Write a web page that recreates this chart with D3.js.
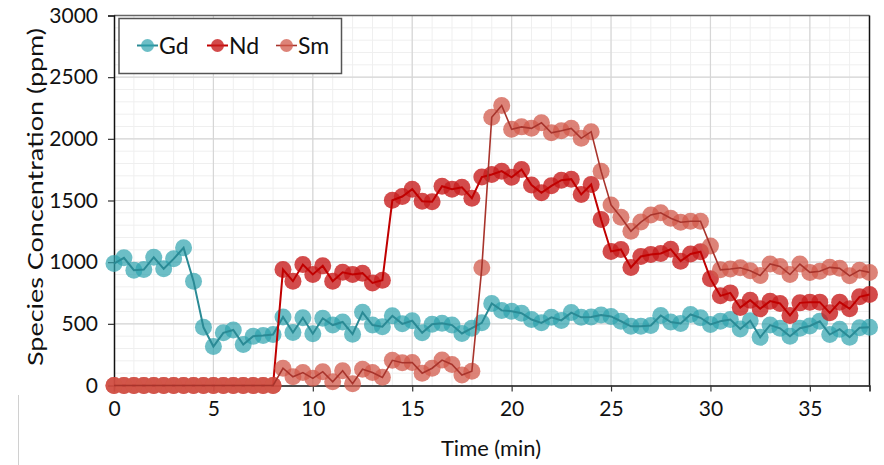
<!DOCTYPE html>
<html><head><meta charset="utf-8">
<script src="https://cdn.jsdelivr.net/npm/d3@7"></script>
<style>body{margin:0;background:#fff;overflow:hidden}</style>
</head><body><svg id="c" width="884" height="465"></svg>
<script>
const time = [0,0.5,1,1.5,2,2.5,3,3.5,4,4.5,5,5.5,6,6.5,7,7.5,8,8.5,9,9.5,10,10.5,11,11.5,12,12.5,13,13.5,14,14.5,15,15.5,16,16.5,17,17.5,18,18.5,19,19.5,20,20.5,21,21.5,22,22.5,23,23.5,24,24.5,25,25.5,26,26.5,27,27.5,28,28.5,29,29.5,30,30.5,31,31.5,32,32.5,33,33.5,34,34.5,35,35.5,36,36.5,37,37.5,38];
const gd = [989,1035,935,940,1040,946,1027,1116,846,472,316,427,450,332,400,405,414,555,430,549,420,545,490,515,416,593,490,477,565,500,525,427,497,505,490,422,465,508,665,609,602,586,535,508,553,528,591,553,555,572,560,521,480,481,486,568,514,503,576,549,495,521,535,458,525,391,490,464,400,464,483,521,413,457,391,468,472];
const nd = [0,0,0,0,0,0,0,0,0,0,0,0,0,0,0,0,0,940,846,981,900,970,846,918,900,911,832,854,1502,1532,1592,1494,1490,1616,1592,1607,1518,1690,1711,1738,1688,1751,1626,1562,1619,1665,1673,1549,1630,1346,1087,1103,957,1046,1062,1070,1105,1008,1066,1085,866,727,751,632,692,622,684,665,568,670,676,676,589,676,622,719,738];
const sm = [0,0,0,0,0,0,0,0,0,0,0,0,0,0,0,0,0,140,71,105,58,112,30,120,15,132,105,66,204,184,186,100,140,206,170,85,116,954,2175,2270,2078,2097,2085,2130,2049,2066,2085,2004,2058,1738,1464,1364,1251,1325,1383,1400,1356,1324,1332,1332,1132,938,944,955,931,892,985,965,900,985,917,927,958,950,889,934,917];
const seriesNames = ["Gd","Nd","Sm"];
const xTicks = [0,5,10,15,20,25,30,35];
const yTicks = [0,500,1000,1500,2000,2500,3000];
const xLabel = "Time (min)";
const yLabel = "Species Concentration (ppm)";

const colors = {Gd:{fill:"#2da2ae",op:0.7,line:"#2a8a95",lw:2},
                Nd:{fill:"#c81e1e",op:0.8,line:"#c00000",lw:2},
                Sm:{fill:"#d25a4b",op:0.75,line:"#a8342c",lw:1.6}};
const seriesData = {Gd:gd, Nd:nd, Sm:sm};

const svg = d3.select("#c");
const font = "Lato, 'Open Sans', sans-serif";
const x = d3.scaleLinear().domain([0,38]).range([114,869.5]);
const y = d3.scaleLinear().domain([0,3000]).range([385.5,15.5]);

// outer figure edge line (bottom-left)
svg.append("line").attr("x1",18.5).attr("x2",18.5).attr("y1",395).attr("y2",465)
  .attr("stroke","#d0d0d0").attr("stroke-width",1);

// minor grid
const g = svg.append("g");
g.selectAll(".vmin").data(d3.range(1,38)).join("line")
  .attr("x1",d=>x(d)).attr("x2",d=>x(d)).attr("y1",y(0)).attr("y2",y(3000))
  .attr("stroke","#efefef").attr("stroke-width",1);
g.selectAll(".hmin").data(d3.range(100,3000,100)).join("line")
  .attr("y1",d=>y(d)).attr("y2",d=>y(d)).attr("x1",x(0)).attr("x2",x(38))
  .attr("stroke","#efefef").attr("stroke-width",1);
// major grid
g.selectAll(".vmaj").data(xTicks.slice(1)).join("line")
  .attr("x1",d=>x(d)).attr("x2",d=>x(d)).attr("y1",y(0)).attr("y2",y(3000))
  .attr("stroke","#d6d6d6").attr("stroke-width",1.2);
g.selectAll(".hmaj").data(yTicks.slice(1,-1)).join("line")
  .attr("y1",d=>y(d)).attr("y2",d=>y(d)).attr("x1",x(0)).attr("x2",x(38))
  .attr("stroke","#d6d6d6").attr("stroke-width",1.2);

// frame top & right
svg.append("line").attr("x1",x(0)).attr("x2",x(38)).attr("y1",y(3000)).attr("y2",y(3000)).attr("stroke","#666").attr("stroke-width",1.5);
svg.append("line").attr("x1",x(38)).attr("x2",x(38)).attr("y1",y(3000)).attr("y2",y(0)).attr("stroke","#111").attr("stroke-width",1.5);

// axes
const xAxis = d3.axisBottom(x).tickValues(xTicks).tickSize(6).tickPadding(10).tickFormat(d3.format("d"));
const yAxis = d3.axisLeft(y).tickValues(yTicks).tickSize(6).tickPadding(10).tickFormat(d3.format("d"));
const gx = svg.append("g").attr("transform",`translate(0,${y(0)})`).call(xAxis);
const gy = svg.append("g").attr("transform",`translate(${x(0)},0)`).call(yAxis);
[gx,gy].forEach(a=>{
  a.select(".domain").attr("stroke","#111").attr("stroke-width",1.5);
  a.selectAll(".tick line").attr("stroke","#333").attr("stroke-width",1.2);
  a.selectAll("text").attr("font-family",font).attr("font-size",21).attr("fill","#111");
});

// series
seriesNames.forEach(name=>{
  const vals = seriesData[name];
  const c = colors[name];
  const pts = time.map((t,i)=>[t,vals[i]]);
  const sg = svg.append("g");
  sg.selectAll("circle").data(pts).join("circle")
    .attr("cx",d=>x(d[0])).attr("cy",d=>y(d[1])).attr("r",8.5)
    .attr("fill",c.fill).attr("fill-opacity",c.op);
  sg.append("path").datum(pts)
    .attr("d",d3.line().x(d=>x(d[0])).y(d=>y(d[1])))
    .attr("fill","none").attr("stroke",c.line).attr("stroke-width",c.lw);
});

// titles
svg.append("text").attr("x",491).attr("y",456).attr("text-anchor","middle")
  .attr("font-family",font).attr("font-size",22).attr("fill","#111")
  .attr("textLength",100).attr("lengthAdjust","spacingAndGlyphs").text(xLabel);
svg.append("text").attr("transform","translate(43,197) rotate(-90)").attr("text-anchor","middle")
  .attr("font-family",font).attr("font-size",22).attr("fill","#111")
  .attr("textLength",338).attr("lengthAdjust","spacingAndGlyphs").text(yLabel);

// legend
const lg = svg.append("g");
lg.append("rect").attr("x",119).attr("y",18.5).attr("width",222.5).attr("height",55)
  .attr("fill","#fff").attr("stroke","#555").attr("stroke-width",1.5);
const lx = [137,207,276];
seriesNames.forEach((name,i)=>{
  const c = colors[name];
  lg.append("line").attr("x1",lx[i]).attr("x2",lx[i]+21).attr("y1",45.5).attr("y2",45.5)
    .attr("stroke",c.line).attr("stroke-width",c.lw);
  lg.append("circle").attr("cx",lx[i]+10.5).attr("cy",45.5).attr("r",6.5)
    .attr("fill",c.fill).attr("fill-opacity",c.op);
  lg.append("text").attr("x",lx[i]+22).attr("y",53.5).attr("font-family",font)
    .attr("font-size",23).attr("fill","#111").text(name);
});
</script>
</body></html>
